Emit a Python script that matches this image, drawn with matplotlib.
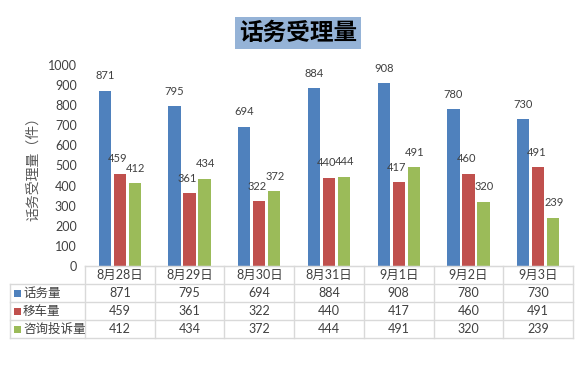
import matplotlib
matplotlib.use("Agg")
import matplotlib.pyplot as plt
import numpy as np
from matplotlib.transforms import blended_transform_factory
from matplotlib.patches import Rectangle

plt.rcParams['font.family'] = ['Lato', 'Noto Sans CJK SC', 'DejaVu Sans']

# data
dates = ["8月28日", "8月29日", "8月30日", "8月31日", "9月1日", "9月2日", "9月3日"]
series_names = ["话务量", "移车量", "咨询投诉量"]
calls = [871, 795, 694, 884, 908, 780, 730]
moves = [459, 361, 322, 440, 417, 460, 491]
complaints = [412, 434, 372, 444, 491, 320, 239]
series = [calls, moves, complaints]
colors = ["#4F81BD", "#C0504D", "#9BBB59"]
yticks = np.arange(0, 1001, 100)

txt = "#404040"
grid_c = "#D9D9D9"

fig = plt.figure(figsize=(5.76, 3.70), dpi=100)
# axes: x 85..573 px, y 65..266 px
ax = fig.add_axes([85/576, 1-266/370, 488/576, 201/370])

x = np.arange(len(dates))
w = 0.175
offs = [-0.215, 0, 0.215]
lbl_dx = [0, -2, 1]   # small pixel nudges of the value labels
for vals, c, o, dx in zip(series, colors, offs, lbl_dx):
    ax.bar(x + o, vals, width=w, color=c, zorder=2)
    for xi, v in zip(x, vals):
        ax.annotate(str(v), (xi + o, v), xytext=(dx, 15), textcoords="offset pixels",
                    ha="center", va="center", fontsize=8, color=txt)

ax.set_xlim(-0.5, len(dates) - 0.5)
ax.set_ylim(0, 1000)
ax.set_yticks(yticks)
ax.set_yticklabels([str(t) for t in yticks], fontsize=9, color=txt)
ax.tick_params(axis="y", length=0, pad=6)
ax.set_xticks([])
for s in ["top", "right", "left"]:
    ax.spines[s].set_visible(False)
ax.spines["bottom"].set_color(grid_c)

ax.set_ylabel("话务受理量（件）", fontsize=10, color="#595959", labelpad=6)

fig.text(298/576, 1-33/370, "话务受理量", fontsize=17, fontweight="bold",
         ha="center", va="center", color="black",
         bbox=dict(boxstyle="square,pad=0.15", facecolor="#95B3D7", edgecolor="none"),
         family=["Noto Sans CJK SC"])

# data table under the axes
h = 18/201
left = (10 - 85)/488
tr = blended_transform_factory(ax.transData, ax.transAxes)
lw = 1.0
# horizontal lines
ax.plot([-0.5, len(dates) - 0.5], [0, 0], transform=tr, color=grid_c, lw=lw, clip_on=False)
for k in range(1, len(series) + 2):
    ax.plot([left, 1], [-k*h, -k*h], transform=ax.transAxes, color=grid_c, lw=lw, clip_on=False)
# vertical lines
for xb in np.arange(len(dates) + 1) - 0.5:
    ax.plot([xb, xb], [0, -(len(series) + 1)*h], transform=tr, color=grid_c, lw=lw, clip_on=False)
ax.plot([left, left], [-h, -(len(series) + 1)*h], transform=ax.transAxes, color=grid_c, lw=lw, clip_on=False)

for xi, d in zip(x, dates):
    ax.text(xi, -0.5*h, d, transform=tr, ha="center", va="center", fontsize=9, color=txt)
for r, (name, vals, c) in enumerate(zip(series_names, series, colors)):
    yc = -(r + 1.5)*h
    ax.add_patch(Rectangle((left + 4/488, yc - 3.5/201), 7/488, 7/201, transform=ax.transAxes,
                           facecolor=c, edgecolor="none", clip_on=False))
    ax.text(left + 13/488, yc, name, transform=ax.transAxes, ha="left", va="center",
            fontsize=9, color=txt)
    for xi, v in zip(x, vals):
        ax.text(xi, yc, str(v), transform=tr, ha="center", va="center", fontsize=9, color=txt)

fig.savefig("out.png", dpi=100)
